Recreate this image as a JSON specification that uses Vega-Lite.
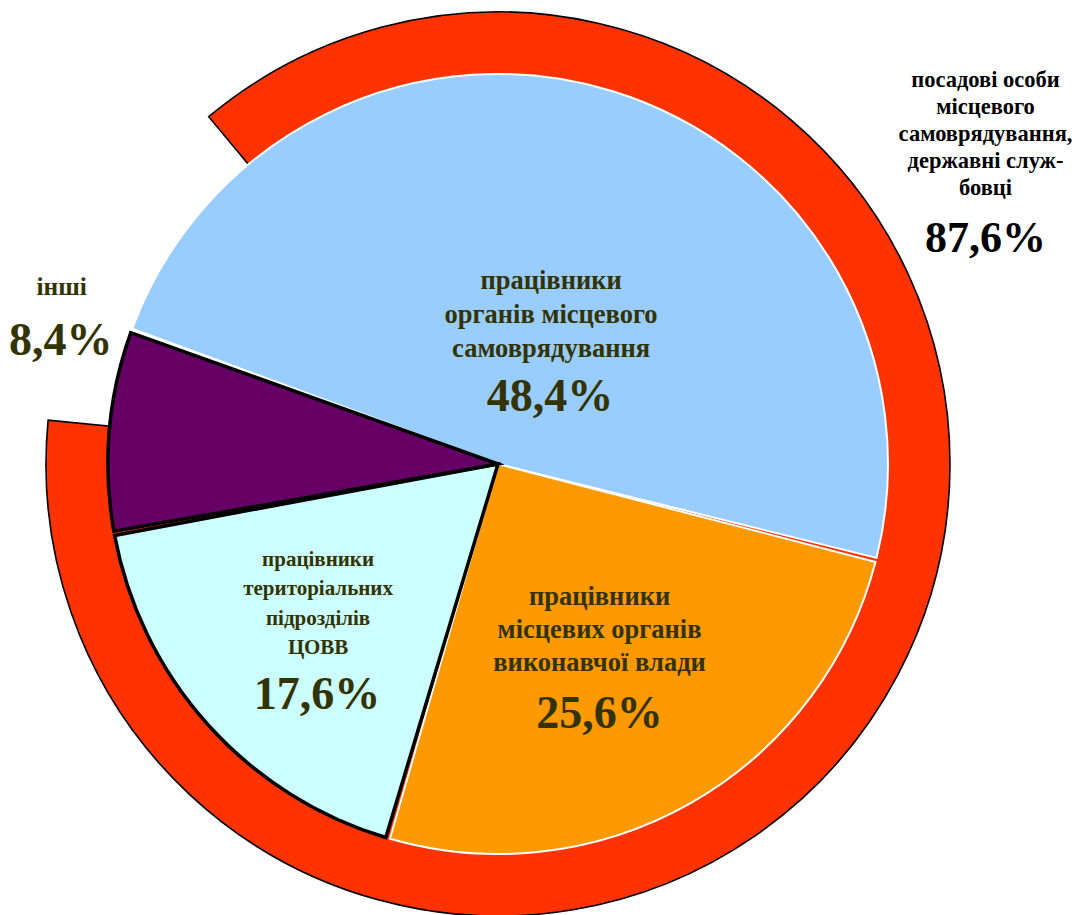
{
  "$schema": "https://vega.github.io/schema/vega-lite/v6.json",
  "width": 996,
  "height": 902,
  "autosize": {"type": "none"},
  "padding": {"left": 0, "top": 13, "right": 78, "bottom": 0},
  "background": "white",
  "config": {
    "view": {"stroke": null},
    "locale": {"number": {"decimal": ",", "thousands": " ", "grouping": [3], "currency": ["", "%"]}},
    "text": {"font": "Liberation Serif", "fontWeight": "bold", "align": "center", "baseline": "middle"}
  },
  "datasets": {
    "pie": [
      {"n": 1, "cat": "працівники органів місцевого самоврядування", "label": "працівники\nорганів місцевого\nсамоврядування", "share": 48.4},
      {"n": 2, "cat": "працівники місцевих органів виконавчої влади", "label": "працівники\nмісцевих органів\nвиконавчої влади", "share": 25.6},
      {"n": 3, "cat": "працівники територіальних підрозділів ЦОВВ", "label": "працівники\nтериторіальних\nпідрозділів\nЦОВВ", "share": 17.6},
      {"n": 4, "cat": "інші", "label": "інші", "share": 8.4}
    ],
    "ring": [
      {"n": 1, "cat": "посадові особи місцевого самоврядування, державні службовці", "label": "посадові особи\nмісцевого\nсамоврядування,\nдержавні служ-\nбовці", "share": 87.6},
      {"n": 2, "cat": "решта", "label": "", "share": 12.4}
    ]
  },
  "resolve": {"scale": {"theta": "independent", "fill": "independent", "stroke": "independent"}},
  "layer": [
    {
      "data": {"name": "ring"},
      "mark": {"type": "arc", "outerRadius": 452, "innerRadius": 0, "strokeWidth": 1.6},
      "encoding": {
        "theta": {"field": "share", "type": "quantitative", "stack": true, "scale": {"domain": [0, 100], "range": [-0.6946, 5.5886]}},
        "order": {"field": "n", "type": "quantitative"},
        "fill": {"field": "n", "type": "nominal", "scale": {"domain": [1, 2], "range": ["#FF3300", "transparent"]}, "legend": null},
        "stroke": {"field": "n", "type": "nominal", "scale": {"domain": [1, 2], "range": ["#000000", "transparent"]}, "legend": null}
      }
    },
    {
      "data": {"name": "ring"},
      "mark": {"type": "text", "radius": 452, "dx": 88, "dy": -595, "fontSize": 22.5, "lineHeight": 27, "lineBreak": "\n", "color": "#000000"},
      "encoding": {
        "theta": {"field": "share", "type": "quantitative", "stack": true, "scale": {"domain": [0, 100], "range": [-0.6946, 5.5886]}},
        "order": {"field": "n", "type": "quantitative"},
        "detail": {"field": "n", "type": "nominal"},
        "text": {"condition": {"test": "datum.n === 1", "field": "label"}, "value": ""}
      }
    },
    {
      "data": {"name": "ring"},
      "mark": {"type": "text", "radius": 452, "dx": 88, "dy": -436, "fontSize": 44, "color": "#000000"},
      "encoding": {
        "theta": {"field": "share", "type": "quantitative", "stack": true, "scale": {"domain": [0, 100], "range": [-0.6946, 5.5886]}},
        "order": {"field": "n", "type": "quantitative"},
        "detail": {"field": "n", "type": "nominal"},
        "text": {"condition": {"test": "datum.n === 1", "field": "share", "type": "quantitative", "format": "$.1f"}, "value": ""}
      }
    },
    {
      "data": {"name": "pie"},
      "encoding": {
        "theta": {"field": "share", "type": "quantitative", "stack": true, "scale": {"domain": [0, 100], "range": [-1.2217, 5.0615]}},
        "order": {"field": "n", "type": "quantitative"},
        "detail": {"field": "cat", "type": "nominal"}
      },
      "layer": [
        {
          "mark": {"type": "arc", "outerRadius": 390, "innerRadius": 0, "padAngle": 0.011},
          "encoding": {
            "fill": {"field": "cat", "type": "nominal", "scale": {"domain": ["працівники органів місцевого самоврядування", "працівники місцевих органів виконавчої влади", "працівники територіальних підрозділів ЦОВВ", "інші"], "range": ["#99CCFF", "#FF9900", "#CCFFFF", "#660066"]}, "legend": null},
            "stroke": {"field": "cat", "type": "nominal", "scale": {"domain": ["працівники органів місцевого самоврядування", "працівники місцевих органів виконавчої влади", "працівники територіальних підрозділів ЦОВВ", "інші"], "range": ["#FFFFFF", "#FFFFFF", "#000000", "#000000"]}, "legend": null},
            "strokeWidth": {"condition": {"test": "datum.n >= 3", "value": 3.5}, "value": 2}
          }
        },
        {
          "mark": {"type": "text", "radius": 160, "dx": 6, "dy": -30, "fontSize": 26.5, "lineHeight": 34, "lineBreak": "\n", "color": "#333300"},
          "encoding": {"text": {"condition": {"test": "datum.n === 1", "field": "label"}, "value": ""}}
        },
        {
          "mark": {"type": "text", "radius": 160, "dx": 5, "dy": 86, "fontSize": 46, "color": "#333300"},
          "encoding": {"text": {"condition": {"test": "datum.n === 1", "field": "share", "type": "quantitative", "format": "$.1f"}, "value": ""}}
        },
        {
          "mark": {"type": "text", "radius": 195, "dx": 5, "dy": -36, "fontSize": 26.5, "lineHeight": 33, "lineBreak": "\n", "color": "#333300"},
          "encoding": {"text": {"condition": {"test": "datum.n === 2", "field": "label"}, "value": ""}}
        },
        {
          "mark": {"type": "text", "radius": 195, "dx": 5, "dy": 81, "fontSize": 46, "color": "#333300"},
          "encoding": {"text": {"condition": {"test": "datum.n === 2", "field": "share", "type": "quantitative", "format": "$.1f"}, "value": ""}}
        },
        {
          "mark": {"type": "text", "radius": 227, "dx": -11, "dy": -56, "fontSize": 21, "lineHeight": 29.5, "lineBreak": "\n", "color": "#333300"},
          "encoding": {"text": {"condition": {"test": "datum.n === 3", "field": "label"}, "value": ""}}
        },
        {
          "mark": {"type": "text", "radius": 227, "dx": -12, "dy": 79, "fontSize": 46, "color": "#333300"},
          "encoding": {"text": {"condition": {"test": "datum.n === 3", "field": "share", "type": "quantitative", "format": "$.1f"}, "value": ""}}
        },
        {
          "mark": {"type": "text", "radius": 450, "dx": 12, "dy": -139, "fontSize": 25.5, "color": "#333300"},
          "encoding": {"text": {"condition": {"test": "datum.n === 4", "field": "label"}, "value": ""}}
        },
        {
          "mark": {"type": "text", "radius": 450, "dx": 11, "dy": -85, "fontSize": 46, "color": "#333300"},
          "encoding": {"text": {"condition": {"test": "datum.n === 4", "field": "share", "type": "quantitative", "format": "$.1f"}, "value": ""}}
        }
      ]
    }
  ]
}
